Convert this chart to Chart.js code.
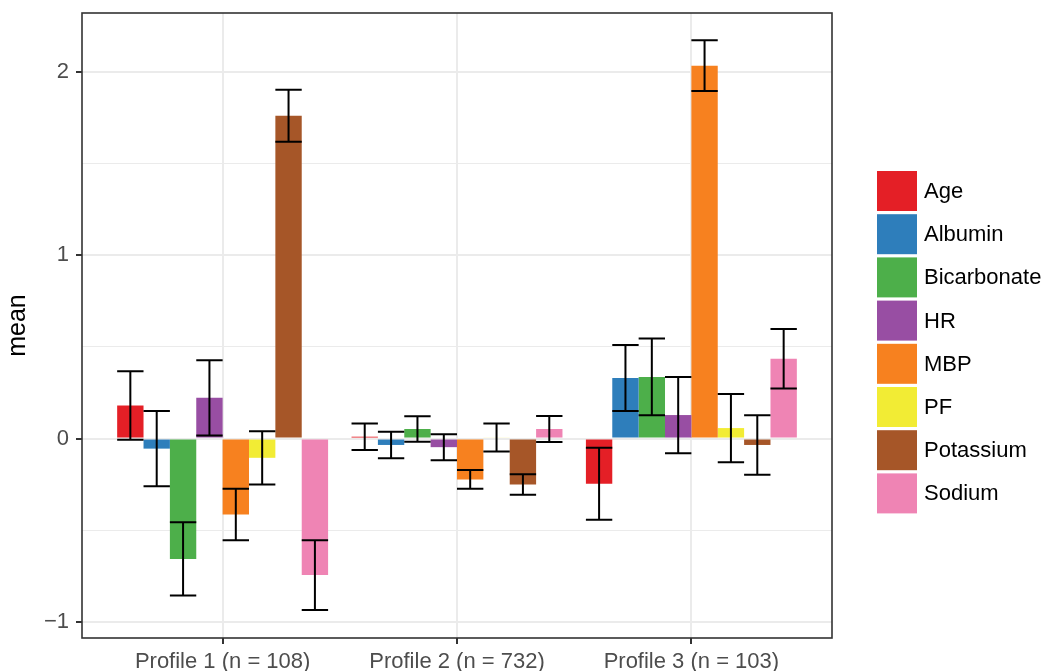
<!DOCTYPE html>
<html>
<head>
<meta charset="utf-8">
<title>Standardised means by profile</title>
<script src="https://cdn.jsdelivr.net/npm/chart.js@4.4.1/dist/chart.umd.min.js"></script>
<style>
  html, body { margin: 0; padding: 0; background: #ffffff; }
  canvas { display: block; }
</style>
</head>
<body>
<canvas id="chart" width="1047" height="671"></canvas>
<script>
// Profiles along the x axis
const profiles = ['Profile 1 (n = 108)', 'Profile 2 (n = 732)', 'Profile 3 (n = 103)'];

// Variables (one bar per variable inside each profile)
const variables = ['Age', 'Albumin', 'Bicarbonate', 'HR', 'MBP', 'PF', 'Potassium', 'Sodium'];
const colours = ['#E41F26', '#2E7EBB', '#4DAF4A', '#984EA3', '#F7811F', '#F2EC34', '#A65628', '#EF84B4'];

// Standardised means and their standard errors, per profile, in variable order
const meanProfile1 = [0.180, -0.055, -0.656, 0.222, -0.414, -0.105, 1.759, -0.744];
const seProfile1   = [0.186,  0.205,  0.200, 0.205,  0.140,  0.145, 0.142,  0.190];
const meanProfile2 = [0.010, -0.035,  0.052, -0.047, -0.223, 0.006, -0.251, 0.052];
const seProfile2   = [0.072,  0.072,  0.070,  0.071,  0.051, 0.076,  0.056, 0.071];
const meanProfile3 = [-0.246, 0.330,  0.336, 0.128, 2.032, 0.057, -0.035, 0.435];
const seProfile3   = [0.196,  0.180,  0.209, 0.208, 0.138, 0.186,  0.162, 0.162];

// Y axis tick values (labels only on whole numbers)
const yTicks = [-1, -0.5, 0, 0.5, 1, 1.5, 2];

const meansByProfile = [meanProfile1, meanProfile2, meanProfile3];
const seByProfile = [seProfile1, seProfile2, seProfile3];

const FONT = '"Liberation Sans", Arial, Helvetica, sans-serif';
Chart.defaults.font.family = FONT;

const datasets = variables.map((name, v) => ({
  label: name,
  backgroundColor: colours[v],
  borderWidth: 0,
  data: profiles.map((p, k) => ({ x: k + 1, y: meansByProfile[k][v] })),
  errors: profiles.map((p, k) => seByProfile[k][v])
}));

const isMajor = v => Math.abs(v - Math.round(v)) < 1e-9;
const fmt = v => (v < 0 ? '\u2212' + Math.abs(v) : String(v));

// Mean ± SE whiskers with caps as wide as each bar
const errorBars = {
  id: 'errorBars',
  afterDatasetsDraw(chart) {
    const ctx = chart.ctx;
    const ys = chart.scales.y;
    ctx.save();
    ctx.strokeStyle = '#000000';
    ctx.lineWidth = 2;
    chart.data.datasets.forEach((ds, di) => {
      const meta = chart.getDatasetMeta(di);
      meta.data.forEach((bar, i) => {
        const m = ds.data[i].y;
        const e = ds.errors[i];
        const top = ys.getPixelForValue(m + e);
        const bot = ys.getPixelForValue(m - e);
        const half = bar.width / 2;
        ctx.beginPath();
        ctx.moveTo(bar.x, top); ctx.lineTo(bar.x, bot);
        ctx.moveTo(bar.x - half, top); ctx.lineTo(bar.x + half, top);
        ctx.moveTo(bar.x - half, bot); ctx.lineTo(bar.x + half, bot);
        ctx.stroke();
      });
    });
    ctx.restore();
  }
};

// Panel border and the key on the right
const panelAndKey = {
  id: 'panelAndKey',
  afterDraw(chart) {
    const ctx = chart.ctx;
    const a = chart.chartArea;
    ctx.save();
    ctx.strokeStyle = '#333333';
    ctx.lineWidth = 1.6;
    ctx.strokeRect(a.left, a.top, a.right - a.left, a.bottom - a.top);

    const keyX = a.right + 45, keyY = 171, step = 43.2, size = 40;
    ctx.font = '22px ' + FONT;
    ctx.textBaseline = 'middle';
    ctx.textAlign = 'left';
    chart.data.datasets.forEach((ds, i) => {
      const y = keyY + i * step;
      ctx.fillStyle = ds.backgroundColor;
      ctx.fillRect(keyX, y, size, size);
      ctx.fillStyle = '#000000';
      ctx.fillText(ds.label, keyX + size + 7, y + size / 2 + 1);
    });
    ctx.restore();
  }
};

new Chart(document.getElementById('chart'), {
  type: 'bar',
  data: { datasets },
  plugins: [errorBars, panelAndKey],
  options: {
    responsive: false,
    animation: false,
    devicePixelRatio: 1,
    layout: { padding: { top: 13, right: 215, left: 0, bottom: 0 } },
    datasets: { bar: { categoryPercentage: 0.9, barPercentage: 1.0, grouped: true } },
    plugins: { legend: { display: false }, tooltip: { enabled: false } },
    scales: {
      x: {
        type: 'linear',
        min: 0.4,
        max: 3.6,
        offset: false,
        afterBuildTicks: axis => { axis.ticks = profiles.map((p, k) => ({ value: k + 1 })); },
        afterFit: scale => {
          scale.height = 33;
          scale.paddingLeft = 0;
          scale.paddingRight = 0;
        },
        border: { display: false },
        grid: {
          offset: false,
          color: '#EBEBEB',
          lineWidth: 2,
          drawTicks: true,
          tickLength: 6,
          tickColor: '#333333',
          tickWidth: 2
        },
        ticks: {
          autoSkip: false,
          maxRotation: 0,
          padding: 4.5,
          color: '#4D4D4D',
          font: { size: 22, lineHeight: 1.2 },
          callback: (value, index) => profiles[index]
        }
      },
      y: {
        type: 'linear',
        min: -1.087,
        max: 2.319,
        afterBuildTicks: axis => { axis.ticks = yTicks.map(v => ({ value: v })); },
        afterFit: scale => {
          scale.width = 82;
          scale.paddingTop = 0;
          scale.paddingBottom = 0;
        },
        border: { display: false },
        grid: {
          color: '#EBEBEB',
          lineWidth: c => (isMajor(c.tick.value) ? 2 : 1.1),
          drawTicks: true,
          tickLength: 6,
          tickColor: c => (isMajor(c.tick.value) ? '#333333' : 'rgba(0,0,0,0)'),
          tickWidth: 2
        },
        ticks: {
          padding: 7,
          color: '#4D4D4D',
          font: { size: 22, lineHeight: 1.2 },
          callback: value => (isMajor(value) ? fmt(value) : '')
        },
        title: {
          display: true,
          text: 'mean',
          color: '#000000',
          font: { size: 25, lineHeight: 1.2 },
          padding: { top: 3.6, bottom: 0 }
        }
      }
    }
  }
});
</script>
</body>
</html>
